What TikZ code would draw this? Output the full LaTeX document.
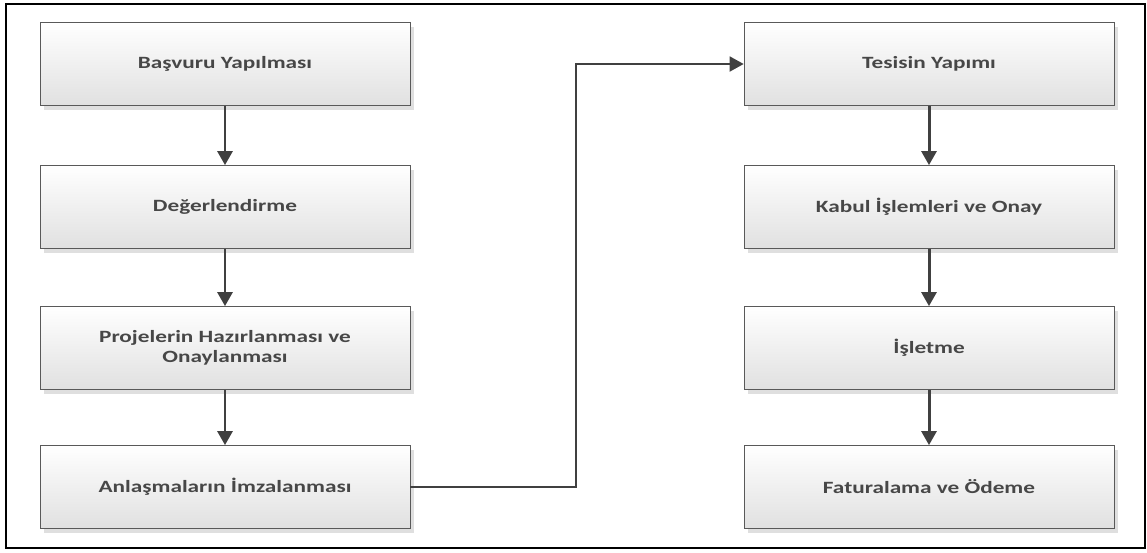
\documentclass[tikz,border=0pt]{standalone}
\usepackage{fontspec}
\setmainfont{Carlito}[FakeStretch=1.35]
\usetikzlibrary{
    arrows.meta,
    shadows
}
\tikzset{
    % Colors
    line color/.style={black!75},
    box border/.style={draw=black!65},
    %
    % Boxes
    stepbox/.style={box border,thin,top color=white,bottom color=black!12,
        minimum width=7.4cm,minimum height=1.66cm,align=center,text=black!72,
        font=\fontsize{9.8}{11.5}\selectfont\bfseries,
        drop shadow={opacity=.25,shadow xshift=2.5pt,shadow yshift=-2.5pt}},
    %
    % Arrows
    arrow tip/.tip={Triangle[length=8pt,width=8.5pt]},
    arr/.style={line color,line width=1.7pt,-{arrow tip}},
    thinarr/.style={line color,line width=1.2pt,-{arrow tip}}
}

\begin{document}
\begin{tikzpicture}[x=0.02cm,y=-0.02cm]
        \useasboundingbox (0,0) rectangle (1147,552);
        \draw[black,line width=1pt] (6,4) rectangle (1145,548);
        % left column
        \node[stepbox] (bas) at (225,64) {Başvuru Yapılması};
        \node[stepbox] (deg) at (225,207) {Değerlendirme};
        \node[stepbox] (pro) at (225,348) {Projelerin Hazırlanması ve\\Onaylanması};
        \node[stepbox] (anl) at (225,487) {Anlaşmaların İmzalanması};
        % right column
        \node[stepbox] (tes) at (929,64) {Tesisin Yapımı};
        \node[stepbox] (kab) at (929,207) {Kabul İşlemleri ve Onay};
        \node[stepbox] (isl) at (929,348) {İşletme};
        \node[stepbox] (fat) at (929,487) {Faturalama ve Ödeme};
        \draw[arr] (bas) -- (deg);
        \draw[arr] (deg) -- (pro);
        \draw[arr] (pro) -- (anl);
        \draw[arr] (tes) -- (kab);
        \draw[arr] (kab) -- (isl);
        \draw[arr] (isl) -- (fat);
        \coordinate (turn) at (576,270);
        \draw[thinarr] (anl.east) -| (turn) |- (tes.west);
    \end{tikzpicture}
\end{document}
